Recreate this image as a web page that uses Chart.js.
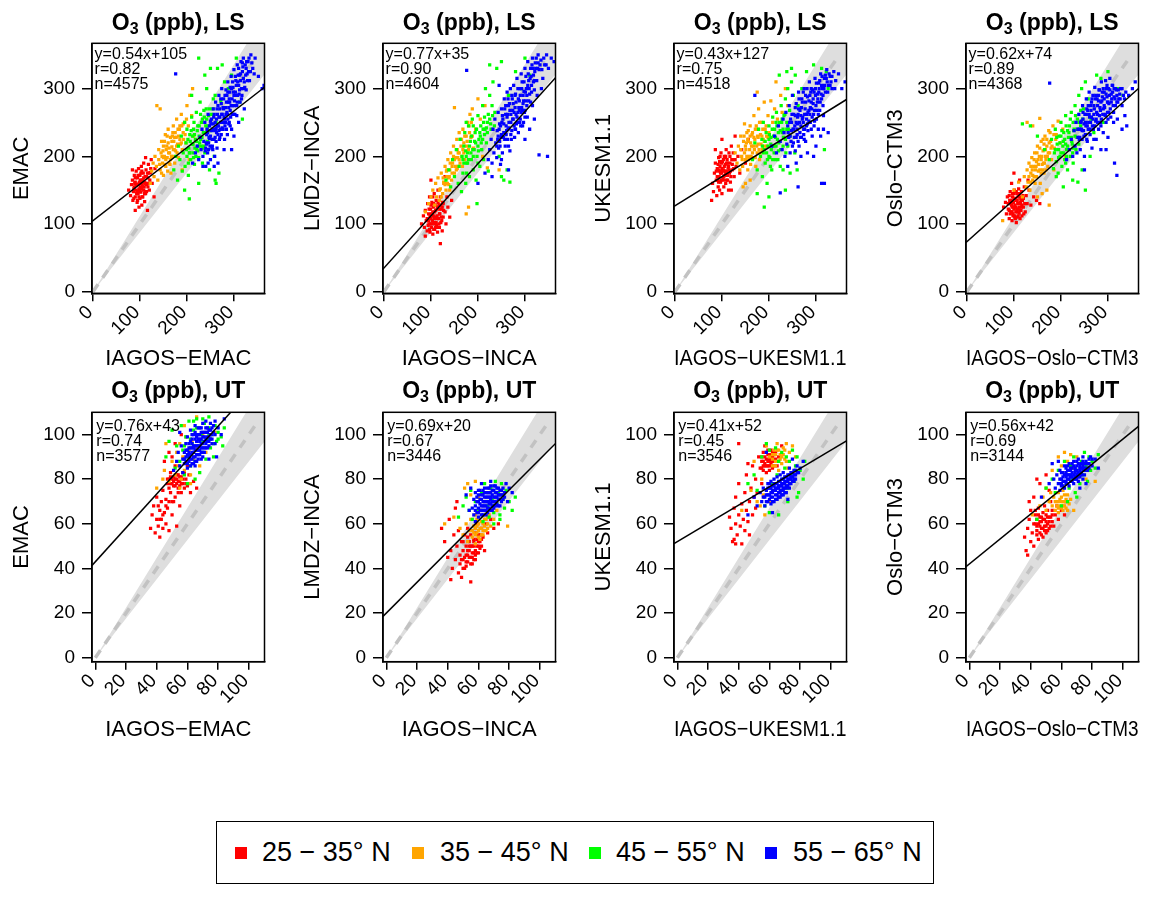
<!DOCTYPE html>
<html>
<head>
<meta charset="utf-8">
<script src="https://cdn.jsdelivr.net/npm/chart.js@4.4.0/dist/chart.umd.min.js"></script>
<style>
  body { margin: 0; background: #fff; width: 1166px; height: 897px; position: relative; overflow: hidden;
         font-family: "Liberation Sans", Arial, sans-serif; }
  canvas { position: absolute; }
  #legend { position: absolute; left: 216px; top: 821px; width: 716px; height: 61px; border: 1.5px solid #000; }
  #legend .sw { position: absolute; width: 12px; height: 12px; top: 25px; }
  #legend .lab { position: absolute; top: 0; height: 61px; line-height: 61px; font-size: 27px; color: #000; white-space: nowrap; }
</style>
</head>
<body>
<div id="legend"></div>
<script>
const FONT = '"Liberation Sans", Arial, sans-serif';

// latitude bands
const regions = ['25 \u2212 35\u00b0 N', '35 \u2212 45\u00b0 N', '45 \u2212 55\u00b0 N', '55 \u2212 65\u00b0 N'];
const regionColors = ['#ff0000', '#ffa500', '#00ff00', '#0000ff'];

// panel labels
const models = ['EMAC', 'LMDZ\u2212INCA', 'UKESM1.1', 'Oslo\u2212CTM3'];
const xTitles = ['IAGOS\u2212EMAC', 'IAGOS\u2212INCA', 'IAGOS\u2212UKESM1.1', 'IAGOS\u2212Oslo\u2212CTM3'];
const layers = ['LS', 'UT'];

// fit statistics, LS panels then UT panels
const slopes = [0.54, 0.77, 0.43, 0.62, 0.76, 0.69, 0.41, 0.56];
const intercepts = [105, 35, 127, 74, 43, 20, 52, 42];
const corr = [0.82, 0.90, 0.75, 0.89, 0.74, 0.67, 0.45, 0.69];
const counts = [4575, 4604, 4518, 4368, 3577, 3446, 3546, 3144];

// tick labels
const ticksLS = [0, 100, 200, 300];
const ticksUT = [0, 20, 40, 60, 80, 100];

// 1:1 line end and band factor
const diagEnd = [348, 106];
const bandHi = 1.12, bandLo = 0.88;

// ---- LS, EMAC ----
const lsEmacRed = [[76,150],[80,142],[82,158],[84,165],[85,135],[86,148],[88,172],[88,155],[90,140],[90,162],[92,150],[92,178],[94,132],[94,158],[95,168],[96,145],[97,182],[98,125],[98,152],[99,162],[100,138],[100,172],[101,155],[102,147],[103,185],[104,128],[104,165],[105,158],[106,140],[107,175],[108,150],[108,190],[110,133],[110,162],[111,170],[112,145],[113,180],[114,158],[116,120],[117,168],[118,188],[120,150],[122,176],[124,195],[126,160],[130,140],[132,182],[112,198],[84,180],[90,120],
  [89,160],[93,145],[96,158],[99,148],[102,175],[105,140],[106,165],[109,155],[111,148],[114,170],[117,155],[119,175],[95,135],[103,160],[87,138],
  [87,152],[90,168],[92,158],[94,148],[96,172],[98,160],[100,150],[101,165],[103,152],[104,178],[106,155],[108,168],[110,145],[112,160],[114,148],[116,175],[118,160],[121,165],[123,182],[98,140]];
const lsEmacOrange = [[122,160],[125,178],[128,190],[130,170],[132,200],[135,185],[136,275],[138,165],[140,195],[140,210],[143,180],[145,205],[146,222],[148,190],[150,172],[150,215],[152,200],[154,232],[155,185],[156,210],[158,198],[160,220],[160,240],[162,190],[163,205],[165,228],[166,175],[168,214],[170,200],[171,245],[172,222],[174,190],[175,235],[176,208],[178,255],[180,218],[182,198],[184,240],[185,225],[188,262],[190,210],[192,235],[195,250],[198,220],[200,275],[203,245],[206,290],[210,260],[214,230],[205,195],[190,180],[143,270],[212,300],
  [147,200],[153,188],[157,215],[161,205],[167,200],[169,230],[173,210],[177,228],[181,240],[186,218],[189,245],[193,225],[159,178],[164,188],[179,205],
  [142,188],[146,175],[149,208],[152,222],[155,195],[158,230],[162,212],[165,195],[168,222],[171,210],[174,228],[178,215],[182,230],[185,245],[188,220],[192,248],[196,232],[199,255],[150,198],[170,235]];
const lsEmacGreen = [[172,180],[176,200],[180,165],[182,215],[185,195],[188,230],[190,178],[192,205],[195,250],[196,185],[198,220],[200,200],[200,240],[203,172],[204,212],[206,232],[208,195],[210,258],[211,218],[213,205],[214,240],[216,188],[218,225],[220,265],[221,210],[223,245],[225,198],[226,230],[228,280],[230,215],[231,250],[233,190],[235,235],[236,268],[238,205],[240,245],[242,300],[244,222],[246,260],[248,180],[250,238],[250,330],[255,270],[258,200],[260,290],[262,250],[265,330],[268,175],[272,282],[275,335],[280,310],[288,300],[295,320],[305,345],[312,280],[318,255],[225,345],[238,320],[210,290],[205,137],[225,160],[260,165],[262,160],[195,150],
  [207,222],[212,230],[217,212],[222,238],[227,220],[232,228],[237,258],[243,240],[219,200],[229,262],[205,205],[215,250],[224,215],[234,212],[241,270],
  [199,210],[202,225],[206,205],[209,238],[213,218],[216,232],[220,222],[223,208],[226,245],[229,225],[233,255],[236,215],[239,235],[242,255],[245,245],[248,270],[252,262],[256,285],[203,190],[214,198]];
const lsEmacBlue = [[212,190],[218,205],[222,215],[225,195],[228,228],[230,210],[232,240],[234,200],[236,222],[238,250],[240,185],[240,212],[242,232],[244,205],[245,262],[246,220],[248,245],[250,195],[250,230],[252,255],[253,212],[255,240],[256,270],[258,225],[259,200],[260,250],[261,280],[263,235],[264,212],[265,262],[267,245],[268,290],[269,225],[270,270],[272,250],[273,232],[274,300],[275,262],[277,240],[278,285],[279,210],[280,255],[282,272],[283,298],[284,240],[286,262],[287,310],[288,280],[290,250],[291,295],[292,268],[294,318],[295,240],[296,285],[298,302],[299,262],[300,328],[301,275],[303,295],[304,312],[306,260],[307,335],[308,290],[310,305],[312,320],[313,280],[315,340],[316,300],[318,325],[320,345],[322,310],[324,335],[326,298],[328,322],[330,340],[333,312],[336,350],[340,330],[345,345],[352,318],[360,300],[364,305],[258,185],[245,190],[234,185],[300,230],[310,250],[280,225],[176,322],[322,270],[295,210],[266,190],
  [241,220],[243,240],[247,228],[249,215],[251,248],[254,225],[257,258],[259,238],[262,222],[264,270],[266,232],[268,258],[271,240],[273,278],[276,250],[278,270],[281,245],[283,262],[285,290],[287,255],[289,272],[291,280],[293,258],[295,300],[297,275],[300,290],[302,262],[305,305],[307,280],[309,320],[311,292],[314,312],[317,290],[319,332],[321,300],[325,320],[327,340],[331,325],[338,338],[343,322],[255,210],[262,242],[270,228],[286,232],[292,245],
  [239,208],[242,218],[244,235],[246,210],[248,226],[250,252],[252,238],[254,215],[256,248],[258,262],[260,228],[261,240],[263,255],[265,245],[266,275],[268,238],[270,258],[272,285],[274,262],[275,242],[277,272],[279,258],[281,290],[282,250],[284,280],[285,265],[287,295],[289,248],[290,285],[292,302],[294,275],[296,262],[297,310],[299,295],[301,282],[303,318],[305,290],[306,275],[308,310],[310,330],[312,298],[314,322],[316,285],[318,338],[320,315],[323,302],[326,330],[329,312],[332,345],[335,325]];

// ---- LS, INCA ----
const lsIncaRed = [[80,100],[84,112],[86,95],[88,120],[90,105],[92,90],[93,130],[95,115],[96,100],[97,140],[98,88],[99,122],[100,108],[101,95],[102,132],[103,115],[104,85],[105,125],[106,102],[107,145],[108,92],[108,118],[110,110],[111,135],[112,98],[113,122],[114,88],[115,150],[116,108],[117,128],[118,95],[119,115],[120,140],[121,102],[122,122],[124,90],[125,132],[126,110],[128,160],[130,118],[132,100],[134,140],[136,125],[140,110],[144,135],[120,71],[88,82],[100,165],[130,170],
  [95,105],[98,112],[102,100],[104,118],[107,108],[109,128],[111,102],[113,112],[115,132],[117,100],[119,122],[122,110],[124,125],[127,120],[100,128],[106,92],
  [92,108],[94,98],[96,122],[99,100],[101,115],[103,105],[105,112],[106,130],[108,100],[110,120],[112,108],[114,125],[116,95],[118,115],[121,128],[123,105],[126,130],[110,95],[104,140],[97,92]];
const lsIncaOrange = [[88,118],[95,130],[100,140],[104,150],[108,128],[110,160],[112,140],[115,168],[118,135],[120,152],[122,175],[125,145],[127,162],[130,185],[132,150],[134,170],[136,195],[138,158],[140,180],[142,205],[144,165],[146,190],[148,215],[150,175],[152,198],[155,225],[156,182],[158,205],[160,235],[162,190],[164,215],[166,200],[168,240],[170,220],[172,195],[175,230],[178,250],[180,210],[183,262],[185,228],[188,270],[190,212],[195,240],[200,285],[205,255],[210,200],[215,275],[175,115],[180,125],[220,183],[150,272],[245,180],
  [128,160],[133,178],[139,170],[145,185],[150,195],[154,180],[160,205],[165,225],[170,205],[176,215],[182,235],[188,230],[140,150],[157,198],[167,185],
  [118,150],[122,140],[126,168],[130,158],[134,180],[137,168],[141,190],[145,175],[148,200],[152,185],[156,210],[160,195],[163,225],[168,210],[172,230],[177,222],[181,245],[186,250],[135,160],[158,185]];
const lsIncaGreen = [[132,165],[138,180],[142,155],[146,195],[150,170],[154,210],[158,160],[160,185],[162,225],[165,148],[166,200],[168,175],[170,215],[172,235],[174,160],[176,190],[178,205],[180,245],[182,170],[184,222],[186,195],[188,255],[190,180],[192,210],[194,235],[196,165],[198,200],[200,260],[202,225],[204,185],[206,245],[208,210],[210,275],[212,195],[214,232],[216,300],[218,220],[220,250],[222,178],[225,290],[228,240],[232,310],[236,265],[240,330],[245,200],[250,170],[255,165],[262,180],[268,162],[225,335],[250,340],[280,325],[300,345],[310,320],[292,300],[265,290],[198,130],[175,250],
  [185,205],[190,200],[195,220],[200,215],[205,230],[210,225],[215,240],[220,235],[180,195],[175,200],[200,190],[212,250],[225,255],[235,245],[230,275],
  [170,190],[174,208],[178,190],[182,215],[186,230],[189,210],[193,222],[197,240],[201,208],[204,235],[207,220],[211,240],[214,258],[218,242],[222,262],[227,248],[231,260],[176,175],[168,195],[190,245]];
const lsIncaBlue = [[176,327],[200,160],[215,175],[222,195],[225,210],[228,225],[230,190],[232,240],[234,205],[236,255],[238,220],[240,198],[241,238],[243,265],[244,212],[246,248],[248,188],[249,228],[250,270],[252,205],[253,255],[255,235],[256,285],[258,215],[259,262],[260,245],[262,295],[263,225],[265,275],[266,250],[268,208],[269,300],[270,262],[272,238],[273,285],[275,255],[276,305],[278,228],[279,272],[280,292],[282,248],[283,315],[285,265],[286,235],[288,282],[289,300],[290,255],[292,322],[293,272],[295,245],[296,290],[298,310],[299,265],[300,330],[302,282],[303,300],[305,258],[306,340],[308,312],[310,292],[312,330],[314,305],[316,345],[318,320],[320,298],[322,338],[325,312],[328,350],[330,328],[334,342],[338,315],[342,335],[346,350],[350,330],[356,345],[362,340],[316,275],[320,255],[310,240],[300,225],[330,202],[348,200],[265,180],[250,195],[230,170],[245,305],[335,300],
  [242,225],[245,240],[247,215],[251,250],[254,228],[257,270],[260,232],[262,258],[264,240],[267,278],[270,250],[271,225],[274,268],[277,245],[279,290],[281,262],[284,250],[286,285],[288,268],[291,245],[293,300],[295,268],[297,282],[300,258],[301,295],[304,275],[307,322],[309,300],[313,318],[315,335],[318,310],[321,325],[324,345],[327,330],[332,335],[326,290],[280,240],[265,215],[297,250],[312,280],
  [240,215],[243,230],[246,222],[248,245],[250,232],[252,260],[255,248],[257,225],[259,275],[261,238],[263,262],[264,285],[266,242],[268,268],[270,232],[272,290],[274,255],[275,278],[277,265],[279,240],[281,280],[283,258],[285,300],[287,272],[289,250],[290,290],[292,265],[294,310],[296,278],[298,296],[300,268],[302,318],[304,290],[306,305],[308,282],[311,315],[314,295],[317,330],[320,312],[323,330],[328,338],[336,328],[340,345],[345,335]];

// ---- LS, UKESM1.1 ----
const lsUkRed = [[78,135],[80,160],[82,148],[84,175],[86,190],[88,165],[89,142],[90,182],[92,155],[93,198],[94,170],[95,150],[96,185],[97,162],[98,205],[99,175],[100,145],[101,192],[102,168],[103,180],[104,155],[105,200],[106,172],[107,188],[108,160],[109,210],[110,178],[111,195],[112,165],[113,183],[114,150],[115,205],[116,175],[117,190],[118,162],[120,215],[122,180],[124,195],[126,170],[128,230],[130,185],[134,200],[138,175],[142,210],[150,190],[156,225],[120,150],[100,225],[86,210],
  [90,170],[92,188],[95,178],[98,165],[100,182],[103,195],[104,170],[107,178],[110,190],[112,172],[114,185],[118,178],[121,195],[96,200],[108,200],[125,182],
  [88,178],[91,165],[93,180],[95,192],[97,175],[99,190],[101,178],[103,165],[105,185],[106,198],[108,175],[110,165],[112,190],[115,180],[117,200],[119,170],[122,188],[124,205],[93,162],[128,195]];
const lsUkOrange = [[128,205],[132,190],[135,215],[138,180],[140,230],[142,200],[144,185],[146,222],[148,248],[150,195],[151,210],[153,235],[155,180],[156,222],[158,200],[160,245],[161,188],[163,215],[164,232],[166,198],[168,260],[169,210],[170,225],[172,185],[174,240],[175,205],[177,218],[178,270],[180,195],[182,232],[184,250],[186,210],[188,225],[190,280],[192,240],[195,215],[198,260],[200,235],[204,282],[208,250],[212,270],[218,255],[225,290],[235,300],[240,275],[150,160],[160,165],[145,155],[175,295],[215,310],[228,265],
  [148,205],[152,220],[157,195],[161,220],[165,205],[168,228],[171,198],[176,230],[179,210],[183,218],[187,240],[190,222],[160,230],[173,245],[195,230],
  [140,210],[143,195],[147,230],[150,215],[153,200],[156,238],[159,210],[162,200],[165,235],[167,215],[171,240],[174,215],[177,228],[181,205],[185,230],[189,215],[194,245],[198,228],[155,225],[180,250]];
const lsUkGreen = [[165,195],[170,220],[175,180],[178,240],[182,200],[185,225],[186,170],[188,250],[190,210],[192,190],[194,235],[196,160],[198,215],[200,245],[202,198],[204,228],[206,180],[208,258],[210,215],[212,240],[214,195],[216,265],[218,225],[220,208],[222,250],[224,185],[226,275],[228,235],[230,215],[232,260],[235,285],[238,240],[240,300],[244,268],[248,310],[252,290],[256,320],[262,275],[270,300],[280,325],[295,335],[312,330],[322,325],[326,300],[238,325],[248,330],[222,320],[235,150],[190,125],[175,145],[200,140],[255,205],[260,180],[245,175],[318,210],[230,180],
  [195,205],[200,225],[205,210],[210,230],[215,215],[220,235],[225,210],[230,240],[235,225],[240,215],[245,230],[200,200],[215,250],[228,255],[208,195],
  [188,205],[192,222],[197,195],[201,232],[204,218],[207,240],[211,205],[214,228],[217,245],[221,220],[224,238],[227,250],[231,228],[234,262],[238,250],[242,240],[203,185],[219,195],[186,215],[236,205]];
const lsUkBlue = [[206,215],[212,230],[216,205],[220,245],[224,222],[228,210],[230,255],[232,235],[234,200],[236,265],[238,218],[240,245],[242,228],[243,275],[245,205],[246,255],[248,238],[250,290],[252,220],[253,262],[255,245],[256,208],[258,278],[260,232],[261,258],[263,295],[264,215],[266,268],[268,245],[269,228],[270,285],[272,258],[274,240],[275,300],[277,270],[278,222],[280,255],[282,288],[283,238],[285,268],[286,310],[288,250],[290,280],[292,230],[293,298],[295,262],[296,245],[298,315],[300,275],[301,255],[303,292],[305,240],[306,308],[308,268],[310,322],[312,285],[314,300],[316,260],[318,315],[320,295],[323,328],[326,305],[330,318],[334,300],[338,325],[342,312],[348,322],[355,300],[362,310],[300,215],[295,200],[282,205],[310,230],[316,240],[326,235],[312,160],[318,160],[268,200],[258,190],[240,185],[224,146],[262,155],[170,290],
  [245,230],[248,250],[250,215],[253,240],[256,260],[258,228],[261,248],[263,270],[266,235],[268,260],[271,280],[273,250],[276,240],[278,290],[280,262],[282,248],[285,282],[287,262],[289,295],[291,270],[294,285],[297,252],[299,300],[302,268],[304,285],[307,300],[309,280],[312,305],[315,290],[318,305],[322,315],[325,295],[330,305],[334,318],[340,300],[290,240],[275,225],[262,222],[305,262],[315,275],
  [241,235],[244,250],[247,222],[249,262],[251,240],[254,228],[256,272],[258,250],[260,240],[262,262],[264,285],[265,250],[267,228],[269,272],[271,255],[273,295],[274,232],[276,262],[278,280],[280,245],[281,300],[283,265],[285,252],[287,290],[288,272],[290,300],[292,258],[294,278],[296,295],[297,268],[299,290],[301,308],[303,280],[306,295],[308,312],[311,292],[313,318],[317,300],[320,320],[324,310],[328,322],[332,310]];

// ---- LS, Oslo-CTM3 ----
const lsOsloRed = [[78,125],[82,132],[84,115],[86,140],[88,122],[90,108],[91,135],[92,148],[94,118],[95,128],[96,105],[97,140],[98,115],[99,132],[100,122],[101,150],[102,110],[103,138],[104,125],[105,102],[106,145],[107,118],[108,130],[109,112],[110,152],[111,125],[112,140],[113,108],[114,132],[115,120],[116,148],[117,112],[118,135],[120,125],[122,155],[124,118],[126,142],[128,130],[132,150],[136,128],[142,140],[148,135],[155,130],[95,160],[112,165],[130,165],[100,175],
  [90,120],[93,130],[96,118],[99,125],[101,112],[104,135],[106,122],[109,140],[111,116],[113,130],[116,125],[119,142],[121,115],[97,145],[107,110],[115,138],
  [88,130],[90,142],[92,115],[94,135],[96,125],[98,112],[100,138],[102,128],[104,118],[105,148],[107,135],[109,122],[111,145],[113,120],[115,135],[117,128],[120,138],[123,130],[103,108],[99,145]];
const lsOsloOrange = [[76,105],[100,150],[110,162],[118,140],[122,170],[126,155],[128,180],[130,162],[132,190],[134,150],[136,175],[138,198],[140,165],[142,185],[144,205],[146,170],[148,192],[150,215],[152,178],[154,200],[156,160],[158,222],[160,188],[162,208],[164,175],[166,230],[168,195],[170,215],[172,185],[174,238],[176,205],[178,222],[180,195],[183,245],[186,212],[190,232],[194,252],[198,220],[204,240],[210,200],[160,145],[170,150],[150,140],[128,250],[140,245],[155,256],[165,190],[185,180],[175,128],
  [135,162],[139,180],[143,170],[147,185],[151,195],[155,180],[159,200],[163,190],[167,210],[171,200],[175,220],[179,212],[145,160],[158,175],[168,180],
  [132,170],[136,185],[140,172],[143,195],[146,180],[149,205],[152,188],[155,212],[158,195],[161,180],[164,218],[167,200],[170,225],[173,205],[177,235],[181,215],[185,232],[189,225],[148,170],[162,225]];
const lsOsloGreen = [[118,248],[135,245],[150,230],[165,210],[175,195],[180,225],[184,182],[186,205],[188,240],[190,192],[192,218],[194,175],[196,230],[198,200],[200,250],[202,185],[204,215],[206,235],[208,195],[210,260],[212,210],[214,180],[216,228],[218,245],[220,200],[222,265],[224,218],[226,190],[228,240],[230,275],[232,210],[235,255],[238,290],[240,225],[244,300],[248,270],[252,310],[258,285],[264,255],[270,235],[276,320],[285,315],[300,325],[320,300],[332,290],[236,162],[225,165],[252,150],[205,155],[245,180],[262,200],[190,170],[290,250],
  [195,210],[200,205],[205,222],[210,218],[214,238],[218,210],[222,228],[226,250],[230,230],[234,240],[238,218],[242,245],[200,230],[212,200],[225,205],
  [188,210],[191,228],[195,198],[198,220],[202,238],[205,205],[208,225],[211,245],[214,215],[217,235],[220,255],[223,222],[227,238],[231,260],[234,228],[238,250],[242,268],[246,255],[210,190],[226,212]];
const lsOsloBlue = [[176,308],[212,195],[218,210],[222,225],[225,200],[228,238],[230,215],[232,250],[234,205],[236,228],[238,262],[240,240],[241,210],[243,252],[245,225],[246,275],[248,238],[250,200],[251,262],[253,245],[254,285],[256,222],[257,268],[259,250],[260,295],[262,232],[263,275],[265,258],[266,212],[268,290],[269,240],[271,270],[272,302],[274,252],[275,225],[277,285],[278,262],[280,240],[281,298],[283,272],[284,250],[286,310],[287,282],[289,262],[290,235],[292,295],[293,272],[295,312],[296,250],[298,288],[299,265],[301,300],[302,278],[304,315],[306,258],[307,292],[309,305],[311,275],[313,300],[315,285],[318,298],[321,280],[325,292],[330,275],[336,260],[344,290],[352,300],[358,310],[285,210],[300,228],[296,210],[320,255],[340,245],[314,190],[319,172],[330,240],[250,180],
  [244,240],[247,255],[249,230],[252,250],[255,270],[258,240],[260,262],[263,250],[265,280],[267,245],[270,262],[273,285],[275,255],[278,275],[280,290],[282,260],[285,280],[288,295],[290,270],[292,285],[295,262],[297,300],[299,280],[303,290],[305,270],[308,285],[310,295],[312,265],[316,275],[319,290],[323,285],[327,300],[333,290],[338,295],[270,225],[255,225],[240,228],[285,245],[300,255],[312,250],
  [236,240],[239,225],[242,250],[245,238],[247,265],[249,248],[252,232],[254,262],[256,245],[258,275],[261,258],[262,240],[264,268],[266,285],[268,255],[270,275],[272,245],[274,290],[276,265],[278,250],[280,282],[282,298],[284,268],[286,255],[288,288],[290,300],[292,275],[294,260],[296,292],[298,305],[300,280],[302,265],[304,298],[307,280],[310,305],[313,288],[316,300],[319,280],[322,298],[326,285],[330,300],[335,285]];

// ---- UT, EMAC ----
const utEmacRed = [[36,58],[37,64],[38,68],[39,56],[40,62],[40,72],[41,59],[42,66],[42,54],[43,70],[43,62],[44,58],[44,75],[45,65],[45,88],[46,60],[46,71],[47,78],[47,67],[48,80],[48,57],[49,74],[49,83],[50,78],[50,64],[51,81],[51,70],[52,77],[52,86],[53,80],[53,59],[54,76],[54,82],[55,79],[55,68],[56,81],[56,74],[57,78],[58,83],[58,76],[59,80],[60,77],[61,82],[62,74],[64,79],[66,76],[50,90],[48,92],[52,96],[56,100],[60,86],
  [50,80],[51,77],[52,80],[53,78],[54,79],[55,81],[56,78],[57,80],[49,78],[48,76],[46,68],[44,64],[42,62],[41,68],[50,70],
  [47,80],[49,81],[51,79],[53,82],[55,77],[57,83],[59,78],[54,74],[52,72],[48,70]];
const utEmacOrange = [[40,76],[45,84],[48,79],[50,88],[52,82],[53,92],[54,86],[55,96],[56,80],[57,90],[58,84],[59,99],[60,88],[61,93],[62,82],[63,97],[64,89],[66,94],[68,86],[70,100],[72,92],[75,98],[78,101],[55,76],[62,78],[58,104],[66,108],[46,96],[44,80]];
const utEmacGreen = [[46,90],[48,97],[50,102],[52,85],[53,95],[55,88],[56,104],[57,93],[58,82],[59,99],[60,90],[61,106],[62,86],[63,96],[64,102],[65,88],[66,107],[67,95],[68,83],[69,100],[70,92],[71,105],[72,89],[73,98],[74,103],[75,94],[76,100],[77,90],[78,104],[79,97],[80,101],[82,99],[83,95],[84,103],[60,78],[65,80],[70,107],[74,108],
  [62,98],[66,103],[70,97],[74,100],[77,96],[80,98],[58,95],[64,106]];
const utEmacBlue = [[51,84],[53,88],[54,92],[55,86],[56,95],[57,89],[57,83],[58,92],[58,87],[59,96],[59,90],[60,85],[60,99],[60,93],[61,88],[61,96],[62,91],[62,102],[62,86],[63,94],[63,98],[63,89],[64,92],[64,100],[64,87],[65,95],[65,104],[65,90],[66,97],[66,93],[66,88],[67,100],[67,95],[67,91],[68,98],[68,103],[68,93],[69,96],[69,101],[69,89],[70,94],[70,99],[70,105],[71,97],[71,92],[72,101],[72,96],[72,106],[73,99],[73,94],[74,102],[74,97],[75,100],[75,105],[76,98],[76,103],[77,101],[78,96],[78,106],[80,103],[82,100],[84,107],[79,90],[74,89],[55,101],
  [59,88],[60,91],[61,94],[61,90],[62,94],[62,89],[63,92],[63,96],[64,95],[64,90],[65,93],[65,98],[66,91],[66,100],[66,95],[67,93],[67,98],[68,95],[68,100],[68,91],[69,94],[69,98],[70,96],[70,101],[71,94],[71,99],[72,98],[72,103],[73,97],[73,101],[74,99],[75,102],[76,100],[70,92],[65,86],
  [58,89],[59,93],[60,87],[61,92],[62,97],[63,87],[63,100],[64,94],[65,88],[65,101],[66,99],[67,89],[67,103],[68,97],[69,92],[69,103],[70,90],[71,101],[72,94],[73,103],[74,95],[75,98],[76,96],[77,104],[78,100]];

// ---- UT, INCA ----
const utIncaRed = [[36,58],[38,52],[40,45],[41,62],[42,48],[43,40],[44,55],[45,44],[45,67],[46,50],[47,38],[47,57],[48,46],[48,42],[49,52],[49,36],[50,48],[50,44],[51,55],[51,40],[52,50],[52,46],[53,43],[53,58],[54,48],[54,52],[55,45],[55,55],[56,50],[56,42],[57,53],[57,47],[58,56],[58,44],[59,50],[59,60],[60,52],[60,47],[61,55],[62,50],[62,58],[63,54],[64,48],[65,60],[66,56],[68,62],[70,58],[73,60],[42,35],[55,34],[46,70],
  [51,45],[52,43],[53,48],[54,45],[55,50],[56,47],[57,44],[57,50],[58,48],[59,53],[60,50],[61,52],[53,54],[55,42],[50,52],
  [49,44],[50,40],[52,41],[53,46],[54,50],[56,45],[57,52],[58,46],[59,47],[60,55],[61,49],[62,53]];
const utIncaOrange = [[38,60],[44,63],[48,58],[50,55],[52,60],[53,52],[54,57],[55,62],[56,54],[57,59],[58,51],[58,64],[59,56],[60,60],[61,53],[61,66],[62,58],[63,55],[64,62],[65,57],[66,60],[67,64],[68,59],[70,62],[72,66],[79,59],[51,76],[53,78],[55,73],[58,79],[60,72],
  [58,55],[60,57],[62,55],[63,60],[64,57],[65,62],[66,58],[59,62],[61,58],[57,56],
  [56,57],[58,58],[60,54],[62,61],[64,59],[66,63],[63,57],[59,59]];
const utIncaGreen = [[47,63],[50,68],[52,72],[54,66],[55,75],[56,62],[58,70],[60,66],[62,74],[63,61],[64,78],[66,68],[67,63],[68,76],[69,71],[70,65],[71,79],[72,69],[73,74],[74,64],[75,78],[76,71],[77,67],[78,75],[80,70],[82,66],[84,72],[70,60],[74,62]];
const utIncaBlue = [[52,73],[55,76],[56,67],[57,64],[57,71],[58,68],[58,74],[59,65],[59,70],[60,67],[60,73],[60,63],[61,69],[61,75],[62,66],[62,71],[63,64],[63,68],[63,73],[64,70],[64,66],[64,76],[65,68],[65,72],[65,64],[66,70],[66,74],[66,67],[67,72],[67,69],[67,76],[68,66],[68,71],[68,74],[69,68],[69,73],[70,70],[70,75],[70,67],[71,72],[71,77],[72,69],[72,74],[73,71],[73,76],[74,73],[74,68],[75,75],[76,71],[77,74],[78,78],[80,76],[82,74],[79,70],[62,78],[68,79],[58,61],[54,66],
  [60,70],[61,66],[62,68],[62,73],[63,70],[64,68],[64,72],[65,70],[65,74],[66,72],[66,65],[67,70],[67,74],[68,69],[68,72],[69,70],[69,75],[70,72],[71,70],[71,74],[72,72],[73,73],[74,71],[75,73],[63,66],[70,68],[76,76],[60,75],
  [58,66],[59,72],[60,65],[61,71],[62,64],[63,75],[64,74],[65,66],[66,76],[67,67],[68,77],[69,66],[70,77],[71,68],[72,76],[73,68],[74,75],[75,70],[76,73],[77,72]];

// ---- UT, UKESM1.1 ----
const utUkRed = [[34,63],[35,58],[36,52],[37,67],[38,60],[38,72],[39,55],[40,64],[40,78],[41,59],[42,69],[42,51],[43,62],[44,74],[44,57],[45,66],[45,82],[46,61],[47,70],[47,55],[48,76],[49,64],[49,86],[50,72],[51,67],[51,80],[52,74],[53,90],[54,85],[55,88],[55,78],[56,92],[56,84],[57,87],[57,95],[58,89],[58,83],[59,91],[59,86],[60,88],[60,84],[61,93],[61,87],[62,90],[62,85],[63,88],[64,92],[65,86],[66,90],[68,95],[40,96],[46,87],[37,53],[38,51],
  [56,88],[57,90],[58,86],[59,88],[60,91],[61,89],[62,88],[63,91],[58,92],[60,86],[55,85],[64,89],
  [55,90],[57,86],[59,93],[60,89],[62,92],[63,86],[56,86],[61,91]];
const utUkOrange = [[42,66],[48,75],[52,70],[54,68],[56,73],[58,95],[60,90],[62,86],[63,93],[64,88],[65,96],[66,84],[67,91],[68,87],[69,94],[70,89],[71,96],[72,85],[73,92],[75,95],[77,90],[55,80],[60,70],[66,72],[50,88],[57,64],
  [64,91],[66,93],[68,90],[70,93],[62,91],[66,88],
  [62,89],[64,86],[67,89],[69,91],[71,88],[65,93]];
const utUkGreen = [[46,78],[50,82],[52,75],[55,90],[57,68],[58,96],[60,93],[62,78],[64,94],[65,82],[66,88],[68,92],[69,80],[70,85],[71,90],[72,76],[73,88],[74,82],[75,93],[76,79],[77,86],[78,90],[79,74],[80,84],[82,80],[83,88],[60,65],[66,64],[72,70],[78,72]];
const utUkBlue = [[46,64],[50,72],[52,68],[54,74],[55,70],[56,76],[57,72],[57,68],[58,75],[58,70],[59,78],[59,73],[60,71],[60,76],[61,74],[61,69],[61,79],[62,72],[62,77],[63,75],[63,70],[63,80],[64,73],[64,78],[65,76],[65,71],[65,81],[66,74],[66,79],[67,77],[67,72],[67,82],[68,75],[68,80],[69,78],[69,73],[69,83],[70,76],[70,81],[71,79],[71,74],[72,82],[72,77],[73,80],[73,85],[74,78],[74,83],[75,81],[76,84],[76,79],[77,82],[78,86],[79,83],[80,85],[82,88],[58,92],[75,89],[62,65],[72,71],
  [60,73],[61,76],[62,74],[63,77],[64,75],[64,71],[65,78],[66,76],[66,72],[67,79],[67,75],[68,77],[68,73],[69,80],[69,76],[70,78],[70,74],[71,81],[71,77],[72,79],[73,78],[73,82],[74,81],[75,79],[76,82],[62,70],[59,76],[77,80],
  [56,72],[58,73],[59,70],[60,78],[61,72],[62,75],[63,78],[64,76],[65,73],[66,77],[67,74],[68,78],[69,75],[70,79],[71,76],[72,80],[73,76],[74,80],[75,83],[76,80],[77,84],[78,83]];

// ---- UT, Oslo-CTM3 ----
const utOsloRed = [[36,54],[37,48],[38,58],[39,62],[40,52],[40,66],[41,56],[42,60],[42,50],[43,64],[44,57],[44,62],[45,53],[45,67],[46,59],[46,63],[47,55],[47,61],[48,65],[48,58],[49,62],[49,68],[50,56],[50,64],[51,60],[51,66],[52,58],[52,63],[53,70],[54,61],[54,66],[55,59],[56,64],[57,68],[58,62],[60,66],[62,64],[63,70],[42,72],[46,78],[50,82],[44,80],[52,75],[39,70],[38,46],
  [43,60],[44,55],[45,60],[46,56],[47,58],[48,62],[49,59],[50,61],[51,57],[52,61],[53,63],[45,64],
  [44,59],[46,61],[47,63],[49,57],[50,59],[51,63],[53,59],[54,64],[48,54],[43,66]];
const utOsloOrange = [[41,64],[46,68],[48,72],[50,66],[52,70],[53,74],[54,68],[55,72],[56,66],[57,70],[58,74],[58,65],[59,68],[60,72],[61,66],[61,75],[62,70],[63,67],[64,73],[65,69],[66,71],[68,66],[58,90],[60,86],[62,92],[64,88],[66,91],[68,85],[70,90],[54,84],[82,79],[76,80],[50,76],
  [57,68],[59,71],[60,67],[62,68],[63,71],[64,66],[58,70],[61,70],
  [56,70],[58,67],[60,70],[62,73],[64,70],[61,68]];
const utOsloGreen = [[44,62],[50,76],[54,80],[56,74],[58,84],[60,78],[62,88],[63,82],[65,76],[66,86],[67,80],[68,90],[69,74],[70,84],[72,78],[73,88],[74,82],[75,92],[76,86],[77,79],[78,90],[79,84],[80,88],[82,85],[84,91],[64,70],[70,72],[60,68]];
const utOsloBlue = [[47,72],[52,78],[55,80],[56,76],[57,82],[58,78],[59,75],[59,84],[60,80],[60,77],[61,83],[61,79],[62,76],[62,86],[63,81],[63,78],[64,84],[64,80],[65,77],[65,87],[66,82],[66,79],[67,85],[67,81],[68,78],[68,88],[69,83],[69,80],[70,86],[70,82],[71,79],[71,89],[72,84],[72,81],[73,87],[73,83],[74,80],[74,90],[75,85],[75,82],[76,88],[77,84],[78,87],[79,90],[80,86],[82,89],[84,85],[54,87],[58,88],[76,78],[72,76],
  [60,78],[61,81],[62,79],[63,83],[64,78],[64,82],[65,80],[65,84],[66,81],[66,85],[67,79],[67,83],[68,82],[68,86],[69,81],[69,85],[70,80],[70,84],[71,83],[71,87],[72,82],[72,86],[73,85],[74,84],[74,88],[75,87],[76,85],[77,87],
  [59,80],[60,83],[61,77],[62,82],[63,79],[63,85],[64,86],[65,82],[66,84],[67,87],[68,80],[69,84],[70,88],[71,81],[72,85],[73,82],[74,86],[75,84],[76,87],[78,85],[78,89],[80,89]];

const seriesByPanel = [
  [lsEmacRed, lsEmacOrange, lsEmacGreen, lsEmacBlue],
  [lsIncaRed, lsIncaOrange, lsIncaGreen, lsIncaBlue],
  [lsUkRed, lsUkOrange, lsUkGreen, lsUkBlue],
  [lsOsloRed, lsOsloOrange, lsOsloGreen, lsOsloBlue],
  [utEmacRed, utEmacOrange, utEmacGreen, utEmacBlue],
  [utIncaRed, utIncaOrange, utIncaGreen, utIncaBlue],
  [utUkRed, utUkOrange, utUkGreen, utUkBlue],
  [utOsloRed, utOsloOrange, utOsloGreen, utOsloBlue]
];

// layout of the two rows
const rowsCfg = [
  { top: 0, xMin: -2, xMax: 365, yMin: -2.4, yMax: 367, ticks: ticksLS, padTop: 43.3, xHeight: 78.7,
    titlePad: 0, annoDx: 2.6, annoDy: 16, titleDy: 13.5 },
  { top: 372, xMin: -2.15, xMax: 110.2, yMin: -1.8, yMax: 110, ticks: ticksUT, padTop: 40.3, xHeight: 82.3,
    titlePad: 0.8, annoDx: 4.3, annoDy: 18.4, titleDy: 14 }
];
const colLefts = [0, 291, 582, 874];

Chart.defaults.font.family = FONT;
Chart.defaults.color = '#000';

function toPoints(arr) {
  return arr.map(p => ({ x: p[0], y: p[1] }));
}

function makePanel(idx) {
  const row = Math.floor(idx / 4), col = idx % 4;
  const rc = rowsCfg[row];
  const a = slopes[idx], b = intercepts[idx];
  const canvas = document.createElement('canvas');
  canvas.width = 291; canvas.height = 372;
  canvas.style.left = colLefts[col] + 'px';
  canvas.style.top = rc.top + 'px';
  document.body.appendChild(canvas);

  const textLines = ['y=' + a.toFixed(2) + 'x+' + b, 'r=' + corr[idx].toFixed(2), 'n=' + counts[idx]];

  const decor = {
    id: 'decor' + idx,
    afterDraw(chart) {
      const { ctx, chartArea: ar } = chart;
      ctx.save();
      ctx.strokeStyle = '#000';
      ctx.lineWidth = 1.5;
      ctx.strokeRect(ar.left, ar.top, ar.right - ar.left, ar.bottom - ar.top);
      ctx.fillStyle = '#000';
      ctx.textAlign = 'left';
      ctx.textBaseline = 'alphabetic';
      ctx.font = '16px ' + FONT;
      textLines.forEach((t, i) => ctx.fillText(t, ar.left + rc.annoDx, ar.top + rc.annoDy + i * 15));
      // title with subscript 3
      const big = 'bold 23px ' + FONT, small = 'bold 16px ' + FONT;
      const rest = ' (ppb), ' + layers[row];
      ctx.font = big;
      const wO = ctx.measureText('O').width, wR = ctx.measureText(rest).width;
      ctx.font = small;
      const w3 = ctx.measureText('3').width;
      const x0 = (ar.left + ar.right) / 2 - (wO + w3 + wR) / 2;
      const y0 = ar.top - rc.titleDy;
      ctx.font = big; ctx.fillText('O', x0, y0);
      ctx.font = small; ctx.fillText('3', x0 + wO, y0 + 4);
      ctx.font = big; ctx.fillText(rest, x0 + wO + w3, y0);
      ctx.restore();
    }
  };

  const far = rc.xMax * 2;
  const datasets = [
    { type: 'line', data: [{ x: 0, y: 0 }, { x: far, y: far * bandHi }, { x: far, y: far * bandLo }],
      fill: 'shape', backgroundColor: '#dedede', borderWidth: 0, pointRadius: 0, order: 10 },
    { type: 'line', data: [{ x: 0, y: 0 }, { x: diagEnd[row], y: diagEnd[row] }],
      fill: false, borderColor: '#c2c2c2', borderWidth: 3.5, borderDash: [9, 8], pointRadius: 0, order: 9 }
  ];
  seriesByPanel[idx].forEach((s, i) => {
    datasets.push({ data: toPoints(s), backgroundColor: regionColors[i], borderWidth: 0,
      pointStyle: 'rect', pointRadius: 2.3, order: 4 - i });
  });
  datasets.push({ type: 'line', data: [{ x: rc.xMin, y: a * rc.xMin + b }, { x: rc.xMax, y: a * rc.xMax + b }],
    fill: false, borderColor: '#000', borderWidth: 1.5, pointRadius: 0, order: 0 });

  new Chart(canvas, {
    type: 'scatter',
    data: { datasets },
    options: {
      responsive: false,
      animation: false,
      layout: { padding: { top: rc.padTop, right: 26.5, left: 0, bottom: 0 } },
      plugins: { legend: { display: false }, tooltip: { enabled: false } },
      scales: {
        x: {
          type: 'linear', min: rc.xMin, max: rc.xMax,
          afterBuildTicks: s => { s.ticks = rc.ticks.map(v => ({ value: v })); },
          afterFit: s => { s.height = rc.xHeight; },
          ticks: { minRotation: 45, maxRotation: 45, autoSkip: false, padding: 0, labelOffset: -3,
                   font: { size: 19 }, color: '#000' },
          grid: { drawOnChartArea: false, drawTicks: true, tickLength: 8, color: '#000', lineWidth: 1.5 },
          border: { display: true, color: '#000', width: 1.5 },
          title: { display: true, text: xTitles[col], font: { size: 22 }, color: '#000',
                   padding: { top: 0, bottom: rc.titlePad } }
        },
        y: {
          type: 'linear', min: rc.yMin, max: rc.yMax,
          afterBuildTicks: s => { s.ticks = rc.ticks.map(v => ({ value: v })); },
          afterFit: s => { s.width = 92; },
          ticks: { autoSkip: false, padding: 7, font: { size: 19 }, color: '#000' },
          grid: { drawOnChartArea: false, drawTicks: true, tickLength: 10, color: '#000', lineWidth: 1.5 },
          border: { display: true, color: '#000', width: 1.5 },
          title: { display: true, text: models[col], font: { size: 22 }, color: '#000',
                   padding: { top: 9, bottom: 0 } }
        }
      }
    },
    plugins: [decor]
  });
}

for (let i = 0; i < 8; i++) makePanel(i);

// legend
const swX = [18, 195, 372, 548];
const labX = [45, 223, 399, 576];
const legend = document.getElementById('legend');
regions.forEach((r, i) => {
  const sw = document.createElement('div');
  sw.className = 'sw';
  sw.style.left = swX[i] + 'px';
  sw.style.background = regionColors[i];
  legend.appendChild(sw);
  const lab = document.createElement('div');
  lab.className = 'lab';
  lab.style.left = labX[i] + 'px';
  lab.textContent = r;
  legend.appendChild(lab);
});
</script>
</body>
</html>
